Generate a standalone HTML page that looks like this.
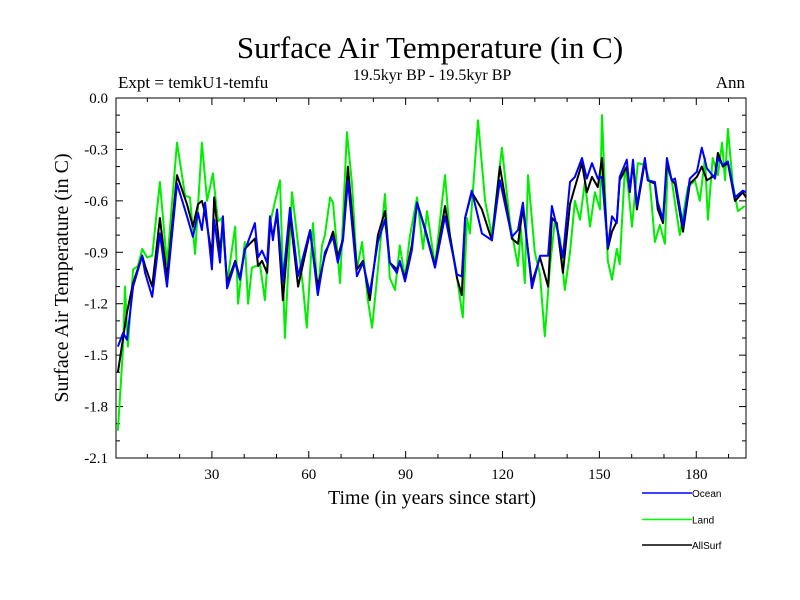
<!DOCTYPE html>
<html><head><meta charset="utf-8"><style>
body{margin:0;background:#fff}
svg{display:block}
text{font-family:"Liberation Serif",serif}
</style></head><body>
<svg id="chart" width="800" height="600" viewBox="0 0 800 600">
<text x="430" y="58" font-size="31" text-anchor="middle">Surface Air Temperature (in C)</text>
<text x="432" y="80" font-size="16" text-anchor="middle">19.5kyr BP - 19.5kyr BP</text>
<text x="118" y="88" font-size="17">Expt = temkU1-temfu</text>
<text x="745" y="88" font-size="17" text-anchor="end">Ann</text>
<text x="0" y="0" font-size="20" text-anchor="middle" transform="translate(68,278) rotate(-90)">Surface Air Temperature (in C)</text>
<text x="432" y="504" font-size="20" text-anchor="middle">Time (in years since start)</text>
<g id="axes"></g>
<g id="series"></g>
<g>
<line x1="642" y1="493" x2="692" y2="493" stroke="#0000ff" stroke-width="1.5"/>
<text x="692" y="497" font-size="10" style="font-family:'Liberation Sans',sans-serif">Ocean</text>
<line x1="642" y1="519.5" x2="692" y2="519.5" stroke="#00ff00" stroke-width="1.5"/>
<text x="692" y="523.5" font-size="10" style="font-family:'Liberation Sans',sans-serif">Land</text>
<line x1="642" y1="545" x2="692" y2="545" stroke="#000" stroke-width="1.5"/>
<text x="692" y="549" font-size="10" style="font-family:'Liberation Sans',sans-serif">AllSurf</text>
</g>
</svg>
<script>
const yTicks=[0.0,-0.3,-0.6,-0.9,-1.2,-1.5,-1.8,-2.1];
const yTickLabels=["0.0","-0.3","-0.6","-0.9","-1.2","-1.5","-1.8","-2.1"];
const xTicks=[30,60,90,120,150,180];
const oceanYears=[0.9,2.5,3.7,5.6,8.4,9.3,11.5,13.9,16.1,19.2,22.3,24.1,25.7,26.9,27.9,30.0,30.7,32.5,33.4,34.7,37.2,38.7,40.2,43.3,44.3,45.5,47.1,48.0,48.9,50.2,52.0,54.2,56.7,60.4,62.8,65.0,67.5,69.0,70.6,72.1,74.9,76.8,78.9,81.4,83.6,85.1,87.3,88.2,89.8,91.9,93.5,96.0,99.1,102.2,105.9,107.4,108.4,110.5,113.6,116.7,119.2,122.9,124.8,126.3,129.1,131.6,134.1,135.3,136.8,138.7,140.9,142.4,144.6,146.1,147.7,149.5,150.8,152.6,153.9,155.4,156.3,158.5,159.4,160.4,161.6,164.1,165.0,167.2,168.1,169.7,170.9,172.4,173.4,175.9,178.0,180.2,181.7,183.3,185.8,186.7,188.2,189.8,192.0,194.4,195.4];
const oceanValues=[-1.45,-1.37,-1.41,-1.10,-0.92,-1.02,-1.16,-0.79,-1.10,-0.50,-0.69,-0.81,-0.67,-0.77,-0.61,-1.00,-0.71,-0.96,-0.69,-1.11,-0.96,-1.06,-0.89,-0.73,-0.93,-0.89,-0.96,-0.69,-0.83,-0.65,-1.07,-0.64,-1.04,-0.77,-1.15,-0.90,-0.81,-0.96,-0.83,-0.48,-1.04,-0.96,-1.14,-0.84,-0.71,-0.96,-1.02,-0.95,-1.07,-0.89,-0.61,-0.77,-0.99,-0.69,-1.03,-1.04,-0.70,-0.54,-0.79,-0.83,-0.48,-0.81,-0.77,-0.61,-1.11,-0.92,-0.92,-0.63,-0.75,-0.93,-0.49,-0.46,-0.35,-0.47,-0.38,-0.47,-0.46,-0.87,-0.69,-0.73,-0.46,-0.36,-0.54,-0.36,-0.63,-0.35,-0.48,-0.49,-0.61,-0.71,-0.35,-0.48,-0.47,-0.75,-0.47,-0.43,-0.29,-0.41,-0.47,-0.35,-0.39,-0.37,-0.58,-0.54,-0.55];
const landYears=[0.9,2.5,3.1,4.0,5.6,7.1,8.4,9.9,11.5,13.9,16.1,19.2,21.7,23.2,24.8,26.9,28.5,30.3,31.9,33.1,34.7,37.2,38.1,40.2,41.2,42.4,44.9,46.4,48.0,51.1,52.6,54.8,58.2,59.4,61.3,62.8,64.1,65.0,66.6,67.5,69.7,71.8,73.4,74.9,76.5,78.3,79.6,81.4,83.6,85.1,86.7,88.2,89.8,91.3,93.5,95.4,96.6,99.1,102.2,103.7,105.3,107.7,109.0,109.9,112.4,114.6,116.7,119.8,122.3,124.8,125.7,126.9,127.9,130.0,131.6,133.1,134.7,136.2,137.8,139.3,140.9,142.4,144.0,145.5,147.1,148.6,150.2,150.8,152.6,153.9,155.4,156.3,157.9,158.8,160.1,161.9,164.1,165.6,167.2,168.7,170.3,171.2,172.4,174.9,177.4,179.6,181.1,182.7,183.6,185.1,186.7,188.0,188.9,189.8,191.3,192.9,195.0];
const landValues=[-1.94,-1.45,-1.10,-1.45,-1.00,-0.98,-0.88,-0.93,-0.92,-0.49,-0.97,-0.26,-0.57,-0.58,-0.91,-0.26,-0.60,-0.44,-0.72,-0.70,-1.08,-0.75,-1.20,-0.84,-1.20,-0.99,-0.97,-1.18,-0.73,-0.48,-1.40,-0.55,-1.10,-1.34,-0.73,-1.15,-0.86,-0.80,-0.58,-0.61,-1.08,-0.20,-0.50,-1.00,-0.84,-1.18,-1.34,-1.00,-0.56,-1.05,-1.12,-0.86,-1.05,-0.81,-0.58,-0.88,-0.66,-0.98,-0.45,-0.80,-0.97,-1.28,-0.70,-0.79,-0.13,-0.60,-0.80,-0.29,-0.73,-0.98,-0.76,-1.08,-0.45,-0.90,-1.03,-1.39,-0.98,-0.72,-0.82,-1.12,-0.90,-0.60,-0.71,-0.49,-0.75,-0.55,-0.65,-0.10,-0.95,-1.06,-0.88,-0.97,-0.41,-0.50,-0.75,-0.38,-0.39,-0.49,-0.84,-0.74,-0.85,-0.38,-0.48,-0.80,-0.52,-0.48,-0.60,-0.35,-0.71,-0.35,-0.45,-0.26,-0.48,-0.18,-0.50,-0.66,-0.63];
const allYears=oceanYears;
const allValues=[-1.60,-1.40,-1.25,-1.08,-0.92,-0.98,-1.10,-0.70,-1.05,-0.45,-0.62,-0.75,-0.62,-0.60,-0.67,-0.92,-0.58,-0.90,-0.72,-1.08,-0.95,-1.05,-0.88,-0.82,-0.98,-0.95,-1.02,-0.75,-0.80,-0.68,-1.18,-0.68,-1.10,-0.78,-1.10,-0.92,-0.78,-0.93,-0.82,-0.40,-1.00,-0.95,-1.18,-0.80,-0.66,-0.96,-1.00,-0.96,-1.05,-0.86,-0.61,-0.76,-0.98,-0.63,-1.05,-1.15,-0.70,-0.55,-0.65,-0.83,-0.40,-0.82,-0.85,-0.64,-1.08,-0.93,-1.10,-0.70,-0.73,-1.02,-0.62,-0.52,-0.38,-0.55,-0.46,-0.52,-0.35,-0.88,-0.78,-0.72,-0.48,-0.40,-0.55,-0.38,-0.65,-0.37,-0.48,-0.50,-0.65,-0.73,-0.38,-0.48,-0.50,-0.78,-0.50,-0.46,-0.40,-0.48,-0.45,-0.32,-0.40,-0.38,-0.60,-0.55,-0.58];

const L=116,R=746,T=98,B=458,X0=0.3,X1=195.4,Y0=-2.1,Y1=0;
const sx=v=>L+(v-X0)/(X1-X0)*(R-L);
const sy=v=>B-(v-Y0)/(Y1-Y0)*(B-T);
const NS="http://www.w3.org/2000/svg";
function mk(tag,attrs,parent){const e=document.createElementNS(NS,tag);for(const k in attrs)e.setAttribute(k,attrs[k]);parent.appendChild(e);return e;}
const ax=document.getElementById('axes');
const frame=mk('rect',{x:L,y:T,width:R-L,height:B-T,fill:'none',stroke:'#000','stroke-width':1},ax);


for(let v=-2.1;v<=0.001;v+=0.1){
  const y=sy(v);const major=Math.abs(Math.round(v*10)%3)===0;const len=major?7:4;
  const t1=mk('line',{x1:L,y1:y,x2:L+len,y2:y,stroke:'#000'},ax);
  
  
  const t2=mk('line',{x1:R,y1:y,x2:R-len,y2:y,stroke:'#000'},ax);
  
  
}
yTicks.forEach((v,i)=>{
  const t=mk('text',{x:108,y:sy(v)+5,'font-size':15,'text-anchor':'end'},ax);t.textContent=yTickLabels[i];
  
  
});
for(let v=10;v<=190;v+=10){
  const x=sx(v);const len=v%30===0?7:4;
  const t1=mk('line',{x1:x,y1:B,x2:x,y2:B-len,stroke:'#000'},ax);
  
  
  const t2=mk('line',{x1:x,y1:T,x2:x,y2:T+len,stroke:'#000'},ax);
  
  
}
xTicks.forEach(v=>{
  const t=mk('text',{x:sx(v),y:479,'font-size':15,'text-anchor':'middle'},ax);t.textContent=String(v);
  
  
});
const sg=document.getElementById('series');
function line(xs,ys,color,name){
  const d=xs.map((x,i)=>(i?'L':'M')+sx(x).toFixed(1)+','+sy(ys[i]).toFixed(1)).join('');
  const p=mk('path',{d:d,fill:'none',stroke:color,'stroke-width':2,'stroke-linejoin':'round'},sg);
  
  
}
line(landYears,landValues,'#00ee00','land-line');
line(allYears,allValues,'#000000','allsurf-line');
line(oceanYears,oceanValues,'#0000ff','ocean-line');
</script>
</body></html>
